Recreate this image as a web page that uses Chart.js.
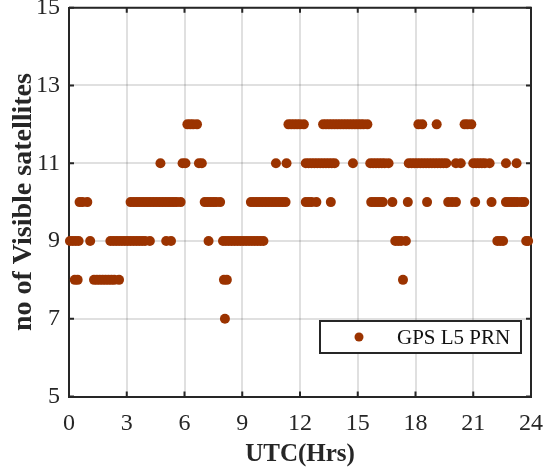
<!DOCTYPE html>
<html><head><meta charset="utf-8">
<script src="https://cdn.jsdelivr.net/npm/chart.js@4.4.1/dist/chart.umd.min.js"></script>
<style>html,body{margin:0;padding:0;background:#fff}#wrap{width:543px;height:470px;position:relative}</style>
</head><body><div id="wrap"><canvas id="c"></canvas></div>
<script>
const seriesLabel = 'GPS L5 PRN';
const xTitle = 'UTC(Hrs)';
const yTitle = 'no of Visible satellites';
const xTicks = [0, 3, 6, 9, 12, 15, 18, 21, 24];
const yTicks = [5, 7, 9, 11, 13, 15];

// UTC hours at which each satellite count was observed
const visible12 = [6.15, 6.3, 6.45, 6.65, 11.4, 11.55, 11.7, 11.85, 12.0, 12.2, 13.2, 13.35, 13.5, 13.65, 13.8, 13.95, 14.1, 14.25, 14.4, 14.55, 14.7, 14.85, 15.0, 15.15, 15.3, 15.5, 18.15, 18.35, 19.1, 20.55, 20.7, 20.9];
const visible11 = [4.75, 5.9, 6.05, 6.75, 6.9, 10.75, 11.3, 12.3, 12.45, 12.6, 12.75, 12.9, 13.05, 13.2, 13.35, 13.5, 13.65, 13.8, 14.75, 15.65, 15.8, 15.95, 16.1, 16.25, 16.4, 16.6, 17.65, 17.8, 17.95, 18.1, 18.25, 18.4, 18.55, 18.7, 18.85, 19.0, 19.15, 19.3, 19.45, 19.6, 20.1, 20.35, 21.0, 21.15, 21.3, 21.45, 21.6, 21.85, 22.7, 23.25];
const visible10 = [0.55, 0.7, 0.95, 3.2, 3.35, 3.5, 3.65, 3.8, 3.95, 4.1, 4.25, 4.4, 4.55, 4.7, 4.85, 5.0, 5.15, 5.3, 5.45, 5.6, 5.8, 7.05, 7.2, 7.35, 7.5, 7.65, 7.85, 9.45, 9.6, 9.75, 9.9, 10.05, 10.2, 10.35, 10.5, 10.65, 10.8, 10.95, 11.1, 11.25, 12.3, 12.45, 12.6, 12.85, 13.6, 15.7, 15.85, 16.0, 16.15, 16.3, 16.8, 17.6, 18.6, 19.7, 19.9, 20.1, 21.1, 21.95, 22.7, 22.85, 23.0, 23.15, 23.3, 23.5, 23.65];
const visible9 = [0.05, 0.2, 0.35, 0.5, 1.1, 2.15, 2.3, 2.45, 2.6, 2.75, 2.9, 3.05, 3.2, 3.35, 3.5, 3.65, 3.8, 3.95, 4.2, 5.05, 5.3, 7.25, 8.0, 8.15, 8.3, 8.45, 8.6, 8.75, 8.9, 9.05, 9.2, 9.35, 9.5, 9.65, 9.8, 9.95, 10.1, 16.95, 17.1, 17.25, 17.5, 22.25, 22.4, 22.55, 23.75, 23.85];
const visible8 = [0.3, 0.45, 1.3, 1.45, 1.6, 1.75, 1.9, 2.05, 2.2, 2.35, 2.6, 8.05, 8.2, 17.35];
const visible7 = [8.1];

const levels = [
  [7, visible7], [8, visible8], [9, visible9],
  [10, visible10], [11, visible11], [12, visible12]
];
const points = [];
levels.forEach(([count, hours]) => hours.forEach(h => points.push({x: h, y: count})));

const markerColor = '#9b3300';
const axisColor = '#262626';
const gridColor = 'rgba(0,0,0,0.12)';
const serif = '"Liberation Serif", "Times New Roman", serif';

const framePlugin = {
  id: 'frame',
  beforeDatasetsDraw(chart) {
    const {ctx, chartArea: a, scales: {x, y}} = chart;
    ctx.save();
    ctx.strokeStyle = axisColor;
    ctx.lineWidth = 2;
    ctx.beginPath();
    ctx.moveTo(a.left, a.top); ctx.lineTo(a.right, a.top); ctx.lineTo(a.right, a.bottom);
    ctx.stroke();
    ctx.beginPath();
    xTicks.forEach(v => {
      const px = x.getPixelForValue(v);
      ctx.moveTo(px, a.bottom); ctx.lineTo(px, a.bottom - 5);
      ctx.moveTo(px, a.top); ctx.lineTo(px, a.top + 5);
    });
    yTicks.forEach(v => {
      const py = y.getPixelForValue(v);
      ctx.moveTo(a.left, py); ctx.lineTo(a.left + 5, py);
      ctx.moveTo(a.right, py); ctx.lineTo(a.right - 5, py);
    });
    ctx.stroke();
    ctx.restore();
  },
  afterDraw(chart) {
    const {ctx, chartArea: a} = chart;
    const ds = chart.data.datasets[0];
    const right = a.right - 10, bottom = a.bottom - 43.5;
    const w = 201, h = 32;
    const left = right - w, top = bottom - h;
    ctx.save();
    ctx.fillStyle = '#fff';
    ctx.fillRect(left, top, w, h);
    ctx.strokeStyle = axisColor;
    ctx.lineWidth = 2;
    ctx.strokeRect(left, top, w, h);
    ctx.fillStyle = ds.backgroundColor;
    ctx.beginPath();
    ctx.arc(left + 39, top + h / 2, 4.5, 0, Math.PI * 2);
    ctx.fill();
    ctx.fillStyle = '#111';
    ctx.font = '21px ' + serif;
    ctx.textBaseline = 'middle';
    ctx.textAlign = 'left';
    ctx.fillText(ds.label, left + 77, top + h / 2 + 1);
    ctx.restore();
  }
};

new Chart(document.getElementById('c'), {
  type: 'scatter',
  data: {
    datasets: [{
      label: seriesLabel,
      data: points,
      backgroundColor: markerColor,
      borderWidth: 0,
      pointRadius: 5,
      pointHoverRadius: 5,
      clip: false
    }]
  },
  options: {
    responsive: true,
    maintainAspectRatio: false,
    animation: false,
    devicePixelRatio: 1,
    layout: {padding: {left: 0, right: 12, top: 7.7, bottom: 0}},
    plugins: {legend: {display: false}, tooltip: {enabled: false}},
    scales: {
      x: {
        type: 'linear', min: 0, max: 24,
        afterBuildTicks: s => { s.ticks = xTicks.map(v => ({value: v})); },
        afterFit: s => { s.height = 73.5; s.paddingLeft = 0; s.paddingRight = 0; },
        ticks: {color: axisColor, font: {family: serif, size: 24}, padding: 13, maxRotation: 0},
        grid: {color: gridColor, lineWidth: 2, drawTicks: false},
        border: {display: true, color: axisColor, width: 2},
        title: {display: true, text: xTitle, color: axisColor,
          font: {family: serif, size: 25, weight: 'bold'}, padding: {top: 0, bottom: 0.5}}
      },
      y: {
        type: 'linear', min: 5, max: 15,
        afterBuildTicks: s => { s.ticks = yTicks.map(v => ({value: v})); },
        afterFit: s => { s.width = 69; s.paddingTop = 0; s.paddingBottom = 0; },
        ticks: {color: axisColor, font: {family: serif, size: 24}, padding: 9},
        grid: {color: gridColor, lineWidth: 2, drawTicks: false},
        border: {display: true, color: axisColor, width: 2},
        title: {display: true, text: yTitle, color: axisColor,
          font: {family: serif, size: 28, weight: 'bold'}, padding: {top: 6.5, bottom: 0}}
      }
    }
  },
  plugins: [framePlugin]
});
</script>
</body></html>
